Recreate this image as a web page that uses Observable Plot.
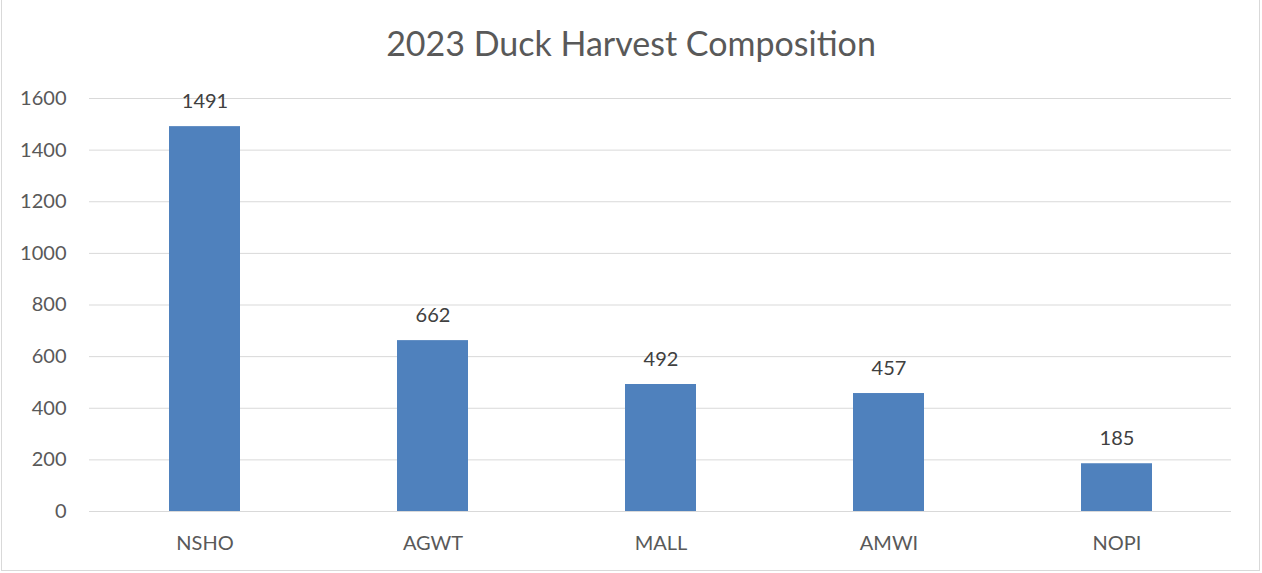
<!DOCTYPE html>
<html>
<head>
<meta charset="utf-8">
<script src="https://cdn.jsdelivr.net/npm/d3@7"></script>
<script src="https://cdn.jsdelivr.net/npm/@observablehq/plot@0.6"></script>
<style>
  html, body { margin: 0; padding: 0; background: #fff; }
  #frame {
    position: absolute; left: 1px; top: 0; width: 1259px; height: 571px;
    border: 1px solid #d9d9d9; border-top: none; box-sizing: border-box; background: #fff;
    font-family: Lato, "Open Sans", sans-serif;
  }
  #title {
    position: absolute; left: -2px; top: 0; width: 1262px; height: 70px;
    text-align: center; line-height: 86px; font-size: 34px; color: #595959;
  }
  #chart { position: absolute; left: -2px; top: 70px; width: 1262px; }
  #chart svg { max-width: none !important; }
</style>
</head>
<body>
<div id="frame">
  <div id="title">2023 Duck Harvest Composition</div>
  <div id="chart"></div>
</div>
<script>
const species = ["NSHO", "AGWT", "MALL", "AMWI", "NOPI"];
const harvest = [1491, 662, 492, 457, 185];
const yTicks = [0, 200, 400, 600, 800, 1000, 1200, 1400, 1600];

const data = species.map((s, i) => ({species: s, value: harvest[i]}));

const plot = Plot.plot({
  width: 1262,
  height: 500,
  marginLeft: 89,
  marginRight: 31,
  marginTop: 28,
  marginBottom: 59,
  style: {fontFamily: "Lato, 'Open Sans', sans-serif", fontSize: "20px", color: "#595959", background: "transparent"},
  x: {domain: species, paddingInner: 0.69, paddingOuter: 0.345, label: null},
  y: {domain: [0, 1600], ticks: yTicks, label: null},
  marks: [
    Plot.gridY(yTicks, {stroke: "#d9d9d9", strokeOpacity: 1, strokeWidth: 1}),
    Plot.barY(data, {x: "species", y: "value", fill: "#4f81bd"}),
    Plot.text(data, {x: "species", y: "value", text: d => String(d.value), dy: -25, fill: "#404040", fontSize: 20}),
    Plot.axisY(yTicks, {tickSize: 0, tickPadding: 23, fontSize: 20, fill: "#595959", tickFormat: "d", label: null}),
    Plot.axisX({tickSize: 0, tickPadding: 24, fontSize: 20, fill: "#595959", label: null})
  ]
});
plot.style.maxWidth = "none";
document.getElementById("chart").appendChild(plot);
</script>
</body>
</html>
